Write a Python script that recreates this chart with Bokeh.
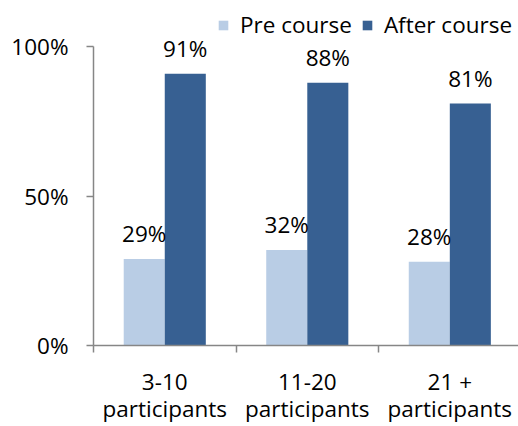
from bokeh.plotting import figure
from bokeh.models import (Range1d, FixedTicker, Legend, LegendItem, ColumnDataSource,
                          LinearAxis)
from bokeh.core.properties import value
from bokeh.embed import file_html
from bokeh.resources import INLINE

cat_line1 = ["3-10", "11-20", "21 +"]
cat_line2 = ["participants", "participants", "participants"]
series_names = ["Pre course", "After course"]
pre_course = [29, 32, 28]
after_course = [91, 88, 81]
y_ticks = [0, 50, 100]
y_tick_labels = ["0%", "50%", "100%"]

FONT = "Open Sans"
FS = "22.5px"
PRE_COLOR = "#b9cde5"
AFTER_COLOR = "#376092"
AXIS_COLOR = "#868686"

centers = [i + 0.5 for i in range(len(cat_line1))]
bw = 0.288

p = figure(width=518, height=426, output_backend="svg", toolbar_location=None,
           x_range=Range1d(0, 2.982), y_range=Range1d(0, 115.5),
           min_border_left=93, min_border_right=0, min_border_top=0, min_border_bottom=80)
p.outline_line_color = None
p.xgrid.visible = False
p.ygrid.visible = False
p.background_fill_color = "white"
p.border_fill_color = "white"

pre_src = ColumnDataSource(dict(x=[c - bw / 2 for c in centers], top=pre_course,
                                lab=[f"{v}%" for v in pre_course]))
aft_src = ColumnDataSource(dict(x=[c + bw / 2 for c in centers], top=after_course,
                                lab=[f"{v}%" for v in after_course]))

r_pre = p.vbar(x="x", top="top", width=bw, bottom=0, source=pre_src,
               fill_color=PRE_COLOR, line_color=None)
r_aft = p.vbar(x="x", top="top", width=bw, bottom=0, source=aft_src,
               fill_color=AFTER_COLOR, line_color=None)

for src in (pre_src, aft_src):
    p.text(x="x", y="top", text="lab", source=src, text_align="center",
           text_baseline="middle", y_offset=-25,
           text_font=value(FONT), text_font_size=FS, text_color="black")

# y axis
ya = p.yaxis[0]
ya.ticker = FixedTicker(ticks=y_ticks)
ya.bounds = (0, 100)
ya.major_label_overrides = {t: l for t, l in zip(y_ticks, y_tick_labels)}
ya.major_tick_in = 0
ya.major_tick_out = 7
ya.minor_tick_in = 0
ya.minor_tick_out = 0
ya.major_label_standoff = 18
ya.axis_line_color = AXIS_COLOR
ya.axis_line_width = 1.5
ya.major_tick_line_color = AXIS_COLOR
ya.major_tick_line_width = 1.5
ya.major_label_text_font = FONT
ya.major_label_text_font_size = FS
ya.major_label_text_color = "black"

# x axis, first label line
xa = p.xaxis[0]
xa.ticker = FixedTicker(ticks=centers, minor_ticks=[0, 1, 2, 3])
xa.major_label_overrides = {c: l for c, l in zip(centers, cat_line1)}
xa.major_tick_in = 0
xa.major_tick_out = 0
xa.minor_tick_in = 0
xa.minor_tick_out = 7
xa.minor_tick_line_color = AXIS_COLOR
xa.minor_tick_line_width = 1.5
xa.axis_line_color = AXIS_COLOR
xa.axis_line_width = 1.5
xa.major_label_standoff = 13
xa.major_label_text_font = FONT
xa.major_label_text_font_size = FS
xa.major_label_text_color = "black"
xa.major_label_text_align = "center"

# x axis, second label line
xb = LinearAxis(ticker=FixedTicker(ticks=centers),
                major_label_overrides={c: l for c, l in zip(centers, cat_line2)},
                major_tick_in=0, major_tick_out=0, minor_tick_in=0, minor_tick_out=0,
                axis_line_color=None, major_tick_line_color=None, minor_tick_line_color=None,
                major_label_standoff=-7, major_label_text_font=FONT,
                major_label_text_font_size=FS, major_label_text_color="black",
                major_label_text_align="center")
p.add_layout(xb, "below")

legend = Legend(items=[LegendItem(label=series_names[0], renderers=[r_pre]),
                       LegendItem(label=series_names[1], renderers=[r_aft])],
                location=(124, 305), orientation="horizontal",
                glyph_width=12, glyph_height=12, label_standoff=11, spacing=9,
                padding=0, margin=0, border_line_color=None,
                background_fill_alpha=0,
                label_text_font=FONT, label_text_font_size=FS, label_text_color="black")
p.add_layout(legend, "center")

open("out.html", "w").write(file_html(p, INLINE))
